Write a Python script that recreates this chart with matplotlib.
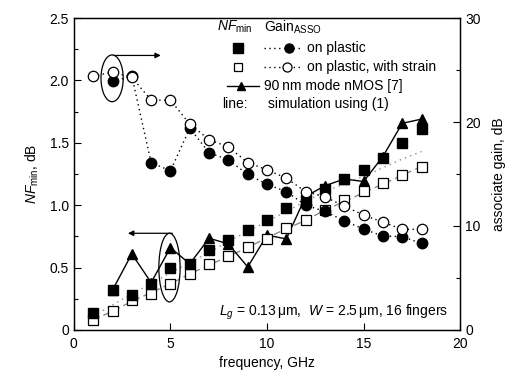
import matplotlib
matplotlib.use('Agg')
import matplotlib.pyplot as plt
from matplotlib.patches import Ellipse
from matplotlib.lines import Line2D
import numpy as np

plt.rcParams['font.family'] = ['Liberation Sans', 'DejaVu Sans']
plt.rcParams['mathtext.fontset'] = 'custom'
plt.rcParams['mathtext.rm'] = 'Liberation Sans'
plt.rcParams['mathtext.it'] = 'Liberation Sans:italic'

# --- data ---
freq = np.arange(1, 19)
nf_plastic = [0.14, 0.32, 0.28, 0.37, 0.50, 0.53, 0.64, 0.72, 0.80, 0.88,
              0.98, 1.04, 1.13, 1.21, 1.28, 1.38, 1.50, 1.61]
nf_strain = [0.08, 0.15, 0.24, 0.29, 0.37, 0.45, 0.53, 0.595, 0.667, 0.73,
             0.815, 0.88, 0.96, 1.04, 1.11, 1.175, 1.24, 1.31]
freq_90nm = np.arange(2, 19)
nf_90nm = [0.32, 0.61, 0.38, 0.66, 0.53, 0.735, 0.69, 0.505, 0.76, 0.73,
           1.07, 1.156, 1.21, 1.19, 1.39, 1.656, 1.69]
freq_gain = np.arange(2, 19)
gain_plastic = [23.9, 24.4, 16.1, 15.3, 19.4, 17.05, 16.35, 14.97, 14.0,
                13.3, 12.0, 11.4, 10.5, 9.7, 9.04, 8.97, 8.33]
gain_strain = [24.4, 24.8, 24.3, 22.1, 22.1, 19.8, 18.3, 17.6, 16.1, 15.4,
               14.6, 13.3, 12.8, 11.9, 11.06, 10.36, 9.68, 9.68]
sim_plain = [0.11, 0.20, 0.29, 0.37, 0.46, 0.54, 0.62, 0.71, 0.79, 0.87,
             0.95, 1.03, 1.11, 1.17, 1.23, 1.30, 1.37, 1.43]
sim_strain = [0.08, 0.15, 0.23, 0.30, 0.37, 0.45, 0.52, 0.59, 0.66, 0.74,
              0.81, 0.88, 0.96, 1.03, 1.10, 1.17, 1.24, 1.31]

fig = plt.figure(figsize=(5.13, 3.80), dpi=100)
ax = fig.add_axes([0.144, 0.1316, 0.753, 0.821])
ax2 = ax.twinx()

fs = 10
grey = '#8a8a8a'

# simulation lines
ax.plot(freq, sim_plain, ls=(0, (1, 3)), color=grey, lw=1.0, zorder=1)
ax.plot(freq, sim_strain, ls=(0, (5, 3)), color=grey, lw=1.0, zorder=1)

# 90 nm reference
ax.plot(freq_90nm, nf_90nm, '-', color='black', lw=1.0, marker='^',
        ms=6.5, zorder=2)
# NF markers
ax.plot(freq, nf_strain, 's', mfc='white', mec='black', mew=0.9, ms=6.5,
        ls='none', zorder=3)
ax.plot(freq, nf_plastic, 's', color='black', ms=6.8, ls='none', zorder=4)

# gain (right axis)
ax2.plot(freq_gain, gain_plastic, ls=(0, (1, 2.5)), color='black', lw=1.0,
         marker='o', ms=7.5, zorder=3)
ax2.plot(freq, gain_strain, ls=(0, (1, 2.5)), color='black', lw=1.0,
         marker='o', mfc='white', mec='black', mew=0.9, ms=7.5, zorder=4)

# axes setup
ax.set_xlim(0, 20)
ax.set_ylim(0, 2.5)
ax2.set_ylim(0, 30)
ax.set_xticks([0, 5, 10, 15, 20])
ax.set_xticklabels(['0', '5', '10', '15', '20'])
ax.set_yticks([0, 0.5, 1.0, 1.5, 2.0, 2.5])
ax.set_yticklabels(['0', '0.5', '1.0', '1.5', '2.0', '2.5'])
ax.set_yticks(np.arange(0.25, 2.5, 0.5), minor=True)
ax2.set_yticks([0, 10, 20, 30])
ax2.set_yticks([5, 15, 25], minor=True)
ax.tick_params(axis='both', direction='in', length=5, width=0.8,
               labelsize=fs, top=False)
ax.tick_params(axis='y', which='minor', direction='in', length=3, width=0.8)
ax2.tick_params(axis='y', direction='in', length=5, width=0.8, labelsize=fs)
ax2.tick_params(axis='y', which='minor', direction='in', length=3, width=0.8)
ax.tick_params(axis='x', pad=5)
for a in (ax, ax2):
    for s in a.spines.values():
        s.set_linewidth(0.9)

ax.set_xlabel('frequency, GHz', fontsize=fs, labelpad=4)
ax.set_ylabel(r'$\mathit{NF}_{\mathrm{min}}$, dB', fontsize=fs, labelpad=6)
ax2.set_ylabel('associate gain, dB', fontsize=fs, labelpad=8)

# ellipses and arrows
ax2.add_patch(Ellipse((1.98, 24.2), 1.15, 4.5, fill=False, ec='black',
                      lw=0.9, zorder=5))
ax2.annotate('', xy=(4.5, 26.4), xytext=(2.05, 26.4),
             arrowprops=dict(arrowstyle='-|>', color='black', lw=0.9,
                             mutation_scale=8, shrinkA=0, shrinkB=0))
ax.add_patch(Ellipse((4.95, 0.50), 1.1, 0.55, fill=False, ec='black',
                     lw=0.9, zorder=5))
ax.annotate('', xy=(2.8, 0.775), xytext=(5.1, 0.775),
            arrowprops=dict(arrowstyle='-|>', color='black', lw=0.9,
                            mutation_scale=8, shrinkA=0, shrinkB=0))

# custom legend (axes fraction)
tr = ax.transAxes
def fx(px):
    return (px - 74) / 386.0
def fy(py):
    return (330 - py) / 312.0

ax.text(fx(217), fy(27), r'$\mathit{NF}_{\mathrm{min}}$', transform=tr,
        fontsize=fs, va='center', ha='left')
ax.text(fx(264), fy(27), r'Gain$_{\mathrm{ASSO}}$', transform=tr,
        fontsize=fs, va='center', ha='left')
rows = [48, 67, 86, 104]
ax.add_line(Line2D([fx(238)], [fy(rows[0])], marker='s', color='black',
                   ms=6.5, transform=tr))
ax.add_line(Line2D([fx(264), fx(302)], [fy(rows[0])] * 2, ls=(0, (1, 2.5)),
                   color='black', lw=1.0, transform=tr))
ax.add_line(Line2D([fx(289)], [fy(rows[0])], marker='o', color='black',
                   ms=6.5, transform=tr))
ax.text(fx(307), fy(rows[0]), 'on plastic', transform=tr, fontsize=fs,
        va='center')
ax.add_line(Line2D([fx(238)], [fy(rows[1])], marker='s', mfc='white',
                   mec='black', mew=0.9, ms=6, transform=tr))
ax.add_line(Line2D([fx(264), fx(302)], [fy(rows[1])] * 2, ls=(0, (1, 2.5)),
                   color='black', lw=1.0, transform=tr))
ax.add_line(Line2D([fx(287)], [fy(rows[1])], marker='o', mfc='white',
                   mec='black', mew=0.9, ms=6.5, transform=tr))
ax.text(fx(307), fy(rows[1]), 'on plastic, with strain', transform=tr,
        fontsize=fs, va='center')
ax.add_line(Line2D([fx(227), fx(259)], [fy(rows[2])] * 2, ls='-',
                   color='black', lw=1.0, transform=tr))
ax.add_line(Line2D([fx(241)], [fy(rows[2])], marker='^', color='black',
                   ms=6, transform=tr))
ax.text(fx(264), fy(rows[2]), '90\u2009nm mode nMOS [7]', transform=tr,
        fontsize=fs, va='center')
ax.text(fx(222), fy(rows[3]), 'line:', transform=tr, fontsize=fs,
        va='center')
ax.text(fx(268), fy(rows[3]), 'simulation using (1)', transform=tr,
        fontsize=fs, va='center')

ax.text(fx(448), fy(312),
        r'$\mathit{L_g}$ = 0.13$\,$$\mathrm{\mu}$m,  $\mathit{W}$ = 2.5$\,$$\mathrm{\mu}$m, 16 fingers',
        transform=tr, fontsize=fs, ha='right', va='center')

fig.savefig('out.png', dpi=100)
